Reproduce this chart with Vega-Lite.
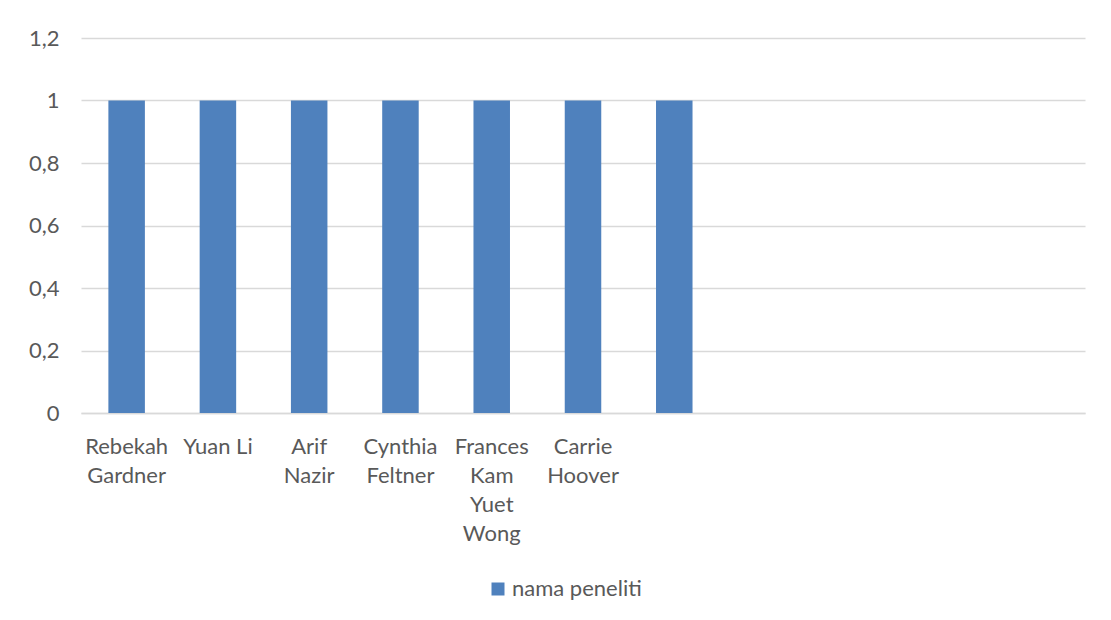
{
  "$schema": "https://vega.github.io/schema/vega-lite/v6.json",
  "autosize": "none",
  "padding": {"left": 81, "top": 38, "right": 26, "bottom": 207},
  "width": 1004,
  "height": 375,
  "background": "white",
  "config": {
    "view": {"stroke": null},
    "font": "Lato",
    "axis": {"labelFont": "Lato", "labelColor": "#595959", "labelFontSize": 22},
    "legend": {"labelFont": "Lato", "labelColor": "#595959", "labelFontSize": 22}
  },
  "data": {
    "values": [
      {"nama": "Rebekah Gardner", "nilai": 1},
      {"nama": "Yuan Li", "nilai": 1},
      {"nama": "Arif Nazir", "nilai": 1},
      {"nama": "Cynthia Feltner", "nilai": 1},
      {"nama": "Frances Kam Yuet Wong", "nilai": 1},
      {"nama": "Carrie Hoover", "nilai": 1},
      {"nama": "", "nilai": 1}
    ]
  },
  "mark": {"type": "bar", "color": "#4F81BD"},
  "encoding": {
    "x": {
      "field": "nama",
      "type": "nominal",
      "sort": null,
      "scale": {
        "domain": ["Rebekah Gardner", "Yuan Li", "Arif Nazir", "Cynthia Feltner", "Frances Kam Yuet Wong", "Carrie Hoover", "", "_8", "_9", "_10", "_11"],
        "paddingInner": 0.6,
        "paddingOuter": 0.3
      },
      "axis": {
        "title": null,
        "labelAngle": 0,
        "labelAlign": "center",
        "labelBaseline": "top",
        "labelPadding": 23,
        "labelLineHeight": 29,
        "labelLimit": 0,
        "ticks": false,
        "domainColor": "#D9D9D9",
        "domainWidth": 1.5,
        "labelExpr": "indexof(datum.label, '_') == 0 ? '' : (datum.label == 'Yuan Li' ? datum.label : split(datum.label, ' '))"
      }
    },
    "y": {
      "field": "nilai",
      "type": "quantitative",
      "scale": {"domain": [0, 1.2], "nice": false},
      "axis": {
        "title": null,
        "values": [0, 0.2, 0.4, 0.6, 0.8, 1, 1.2],
        "labelExpr": "replace(format(datum.value, '~g'), '.', ',')",
        "ticks": false,
        "domain": false,
        "labelPadding": 22,
        "gridColor": "#D9D9D9",
        "gridWidth": 1.5
      }
    },
    "color": {
      "datum": "nama peneliti",
      "type": "nominal",
      "scale": {"range": ["#4F81BD"]},
      "legend": {
        "title": null,
        "orient": "none",
        "legendX": 406,
        "legendY": 540,
        "symbolType": "square",
        "symbolSize": 169,
        "symbolStrokeWidth": 0,
        "labelOffset": 3
      }
    }
  }
}
